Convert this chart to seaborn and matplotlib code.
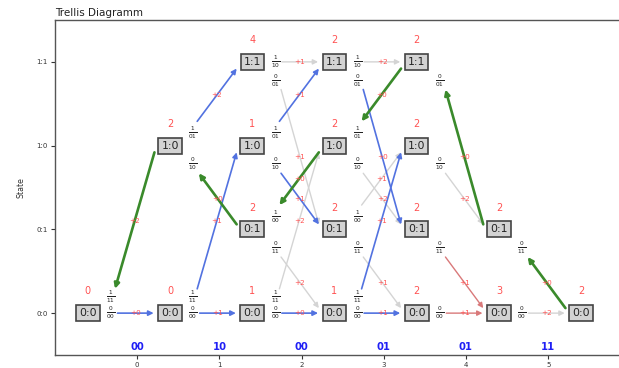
import matplotlib
matplotlib.use("Agg")
import matplotlib.pyplot as plt
import seaborn as sns

# Encoder states (y positions follow this order) and received symbol pairs
state_names = ["0:0", "0:1", "1:0", "1:1"]
received = ["00", "10", "00", "01", "01", "11"]

# Encoder: next state and emitted bits for input 0 / input 1
next_state = {"0:0": ["0:0", "1:0"], "0:1": ["0:0", "1:0"],
              "1:0": ["0:1", "1:1"], "1:1": ["0:1", "1:1"]}
out_bits = {"0:0": ["00", "11"], "0:1": ["11", "00"],
            "1:0": ["10", "01"], "1:1": ["01", "10"]}

# Accumulated path metric of every reachable state, per stage
metrics = [
    {"0:0": 0},
    {"0:0": 0, "1:0": 2},
    {"0:0": 1, "0:1": 2, "1:0": 1, "1:1": 4},
    {"0:0": 1, "0:1": 2, "1:0": 2, "1:1": 2},
    {"0:0": 2, "0:1": 2, "1:0": 2, "1:1": 2},
    {"0:0": 3, "0:1": 2},
    {"0:0": 2},
]

# Branches: stage, start state, input bit, branch metric, role
branch_step = [0, 0,
               1, 1, 1, 1,
               2, 2, 2, 2, 2, 2, 2, 2,
               3, 3, 3, 3, 3, 3, 3, 3,
               4, 4, 4, 4,
               5, 5]
branch_from = ["0:0", "0:0",
               "0:0", "0:0", "1:0", "1:0",
               "0:0", "0:0", "0:1", "0:1", "1:0", "1:0", "1:1", "1:1",
               "0:0", "0:0", "0:1", "0:1", "1:0", "1:0", "1:1", "1:1",
               "0:0", "0:1", "1:0", "1:1",
               "0:0", "0:1"]
branch_bit = [0, 1,
              0, 1, 1, 0,
              0, 1, 1, 0, 1, 0, 1, 0,
              0, 1, 1, 0, 1, 0, 1, 0,
              0, 0, 0, 0,
              0, 0]
branch_cost = [0, 2,
               1, 1, 2, 0,
               0, 2, 0, 2, 1, 1, 1, 1,
               1, 1, 1, 1, 0, 2, 2, 0,
               1, 1, 2, 0,
               2, 0]
branch_kind = ["keep", "path",
               "keep", "keep", "keep", "path",
               "keep", "drop", "path", "drop", "keep", "keep", "drop", "drop",
               "keep", "keep", "drop", "drop", "path", "drop", "drop", "keep",
               "tie", "tie", "drop", "path",
               "drop", "path"]

kind_style = {
    "drop": dict(color="#d4d4d4", lw=1.0, z=1),
    "keep": dict(color="#5272e0", lw=1.2, z=2),
    "tie":  dict(color="#d9797a", lw=1.0, z=2),
    "path": dict(color="#3a8a2b", lw=1.9, z=3),
}

sns.set_theme(style="ticks")
plt.rcParams["font.family"] = ["DejaVu Sans"]

fig = plt.figure(figsize=(6.19, 3.68), dpi=100)
ax = fig.add_axes([55 / 619, 13 / 368, 575.4 / 619, 335 / 368])
ax.set_xlim(-1, 6)
ax.set_ylim(-0.5, 3.5)


def col_x(k):
    return k - 0.6


def sy(s):
    return state_names.index(s)


red_txt = "#ff5252"

# branches with their labels
for k, s, b, c, kind in zip(branch_step, branch_from, branch_bit,
                            branch_cost, branch_kind):
    t = next_state[s][b]
    x0, y0 = col_x(k), sy(s)
    x1, y1 = col_x(k + 1), sy(t)
    dy = y1 - y0
    if dy > 0:
        ly = 0.2 if dy > 1 else 0.15
        start, end = (x0 + 0.33, y0 + 0.29), (x1 - 0.19, y1 - 0.08)
    elif dy < 0:
        ly = -0.22
        start, end = (x0 + 0.35, y0 - 0.33), (x1 - 0.19, y1 + 0.06)
    else:
        ly, start, end = 0.0, (x0 + 0.36, y0), (x1 - 0.2, y1)
    ax.text(x0 + 0.28, y0 + ly, r"$\frac{%d}{%s}$" % (b, out_bits[s][b]),
            fontsize=6.0, ha="center", va="center", color="#222222", zorder=4)
    st = kind_style[kind]
    tail, head = (end, start) if kind == "path" else (start, end)
    ax.annotate("", xy=head, xytext=tail,
                arrowprops=dict(arrowstyle="-|>", color=st["color"], lw=st["lw"],
                                mutation_scale=7.5, shrinkA=0, shrinkB=0),
                zorder=st["z"])
    ax.text((start[0] + end[0]) / 2, (start[1] + end[1]) / 2, "+%d" % c,
            color=red_txt, fontsize=5.2, ha="center", va="center", zorder=5)

# state boxes and path metrics
for k, stage in enumerate(metrics):
    for s, m in stage.items():
        x, y = col_x(k), sy(s)
        ax.text(x, y, s, ha="center", va="center", fontsize=7.8, color="#222222",
                bbox=dict(boxstyle="square,pad=0.28", fc="#d3d3d3", ec="#444444", lw=1.2),
                zorder=6)
        ax.text(x, y + 0.26, str(m), ha="center", va="center", fontsize=7,
                color=red_txt, zorder=6)

# received symbols
for k, r in enumerate(received):
    ax.text(k, -0.4, r, ha="center", va="center", fontsize=7.2,
            fontweight="bold", color="#1f1ff5")

ax.set_xticks(range(len(received)))
ax.set_yticks(range(len(state_names)))
ax.set_yticklabels(state_names)
ax.tick_params(labelsize=5, length=3, width=0.8, pad=2, colors="#333333")
for sp in ax.spines.values():
    sp.set_color("#555555")
    sp.set_linewidth(1.0)
ax.set_ylabel("State", fontsize=5.7, color="#333333", labelpad=8)
ax.set_title("Trellis Diagramm", loc="left", fontsize=7.5, pad=3, color="#222222")

fig.savefig("out.png", dpi=100)
